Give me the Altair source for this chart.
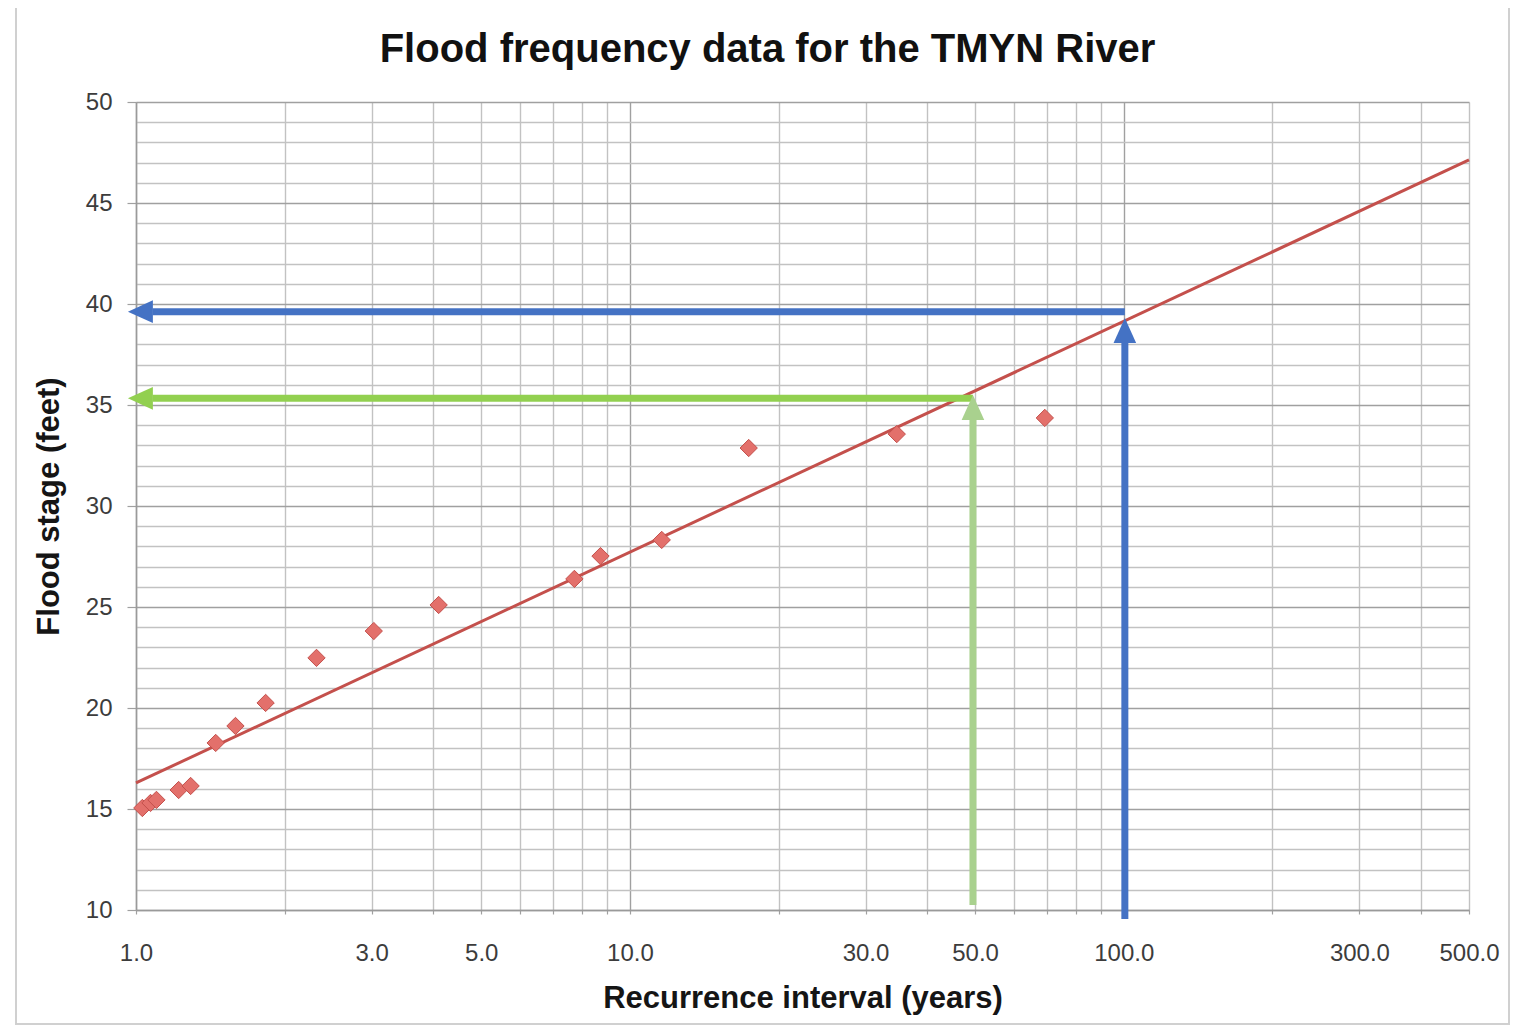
import altair as alt
import pandas as pd

FONT = "Liberation Sans"

chart_title = "Flood frequency data for the TMYN River"
x_title = "Recurrence interval (years)"
y_title = "Flood stage (feet)"

# observed floods: recurrence interval (years) and stage (feet)
interval = [1.03, 1.07, 1.10, 1.22, 1.29, 1.45, 1.59, 1.83, 2.32, 3.03, 4.10,
            7.72, 8.72, 11.6, 17.4, 34.7, 69.2]
stage = [15.05, 15.3, 15.45, 15.94, 16.14, 18.27, 19.11, 20.25, 22.48, 23.81,
         25.1, 26.39, 27.52, 28.32, 32.87, 33.56, 34.36]

# fitted trend line end points
trend_interval = [1.0, 500.0]
trend_stage = [16.29, 47.13]

# axis gridlines and labels
x_grid = [1, 2, 3, 4, 5, 6, 7, 8, 9, 10, 20, 30, 40, 50, 60, 70, 80, 90,
          100, 200, 300, 400, 500]
x_labeled = [1, 3, 5, 10, 30, 50, 100, 300, 500]
x_major = [1, 10, 100]
y_grid = list(range(10, 51))

# read-off arrows (100-year in blue, 50-year in green)
arrow_color = ["#4472c4", "#92d050", "#4472c4", "#a9d18e"]
arrow_from_x = [100.5, 49.5, 100.5, 49.5]
arrow_to_x = [1.08, 1.08, 100.5, 49.5]
arrow_from_y = [39.62, 35.33, 9.55, 10.25]
arrow_to_y = [39.62, 35.33, 38.2, 34.4]
head_x = [0.963, 0.963, 100.5, 49.5]
head_y = [39.62, 35.33, 39.31, 35.5]
head_dir = ["left", "left", "up", "up"]

LEFT_HEAD = "M0,0L2.1,-0.95L2.1,0.95Z"
UP_HEAD = "M0,0L0.95,2.1L-0.95,2.1Z"

pts = pd.DataFrame({"interval": interval, "stage": stage})
trend = pd.DataFrame({"interval": trend_interval, "stage": trend_stage})
shafts = pd.DataFrame({"interval": arrow_from_x, "x2": arrow_to_x, "stage": arrow_from_y,
                       "y2": arrow_to_y, "c": arrow_color})
heads = pd.DataFrame({"interval": head_x, "stage": head_y, "d": head_dir, "c": arrow_color})

xs = alt.Scale(type="log", domain=[1, 500], nice=False)
ys = alt.Scale(domain=[10, 50], nice=False, zero=False)

GRID_MINOR = "#c2c2c2"
GRID_MAJOR = "#a0a0a0"
x_major_test = " || ".join(f"datum.value == {v}" for v in x_major)

x_axis = alt.Axis(
    values=x_grid,
    labelExpr=f"indexof({x_labeled}, datum.value) >= 0 ? format(datum.value, '.1f') : ''",
    title=x_title, titleFontSize=31, titleFontWeight="bold", titleColor="#151515",
    titleY=97, titleBaseline="alphabetic",
    labelFontSize=24, labelColor="#3c3c3c", labelBaseline="alphabetic", labelPadding=46,
    labelOverlap=False, labelFlush=False, labelBound=False,
    tickSize=4, tickColor="#a0a0a0", tickWidth=1.2,
    gridColor={"condition": {"test": x_major_test, "value": GRID_MAJOR}, "value": GRID_MINOR},
    gridWidth=1.4, domainColor="#9a9a9a", domainWidth=1.5,
)

y_axis = alt.Axis(
    values=y_grid,
    labelExpr="datum.value % 5 === 0 ? datum.value : ''",
    title=y_title, titleFontSize=31, titleFontWeight="bold", titleColor="#151515",
    titleX=-87, titleY=404, titleBaseline="middle", titleAngle=270,
    labelFontSize=24, labelColor="#3c3c3c", labelPadding=15, labelBaseline="middle",
    labelOverlap=False, labelFlush=False, labelBound=False,
    tickSize=9, tickWidth=1.2,
    tickColor={"condition": {"test": "datum.value % 5 === 0", "value": "#a0a0a0"},
               "value": "rgba(0,0,0,0)"},
    gridColor={"condition": {"test": "datum.value % 5 === 0", "value": GRID_MAJOR},
               "value": GRID_MINOR},
    gridWidth=1.4, domainColor="#9a9a9a", domainWidth=1.5,
)

X = alt.X("interval:Q", scale=xs, axis=x_axis)
Y = alt.Y("stage:Q", scale=ys, axis=y_axis)

frame = alt.Chart(pts).mark_rect(filled=False, stroke="#cfcfcf", strokeWidth=1.5).encode(
    x=alt.value(-120), x2=alt.value(1373), y=alt.value(-96), y2=alt.value(922)
)

trend_line = alt.Chart(trend).mark_line(color="#c4504c", strokeWidth=3).encode(x=X, y=Y)

points = alt.Chart(pts).mark_point(
    shape="diamond", filled=True, color="#e3706b", stroke="#c4504c",
    strokeWidth=1, opacity=1, size=300
).encode(x=X, y=Y)

arrow_shafts = alt.Chart(shafts).mark_rule(strokeWidth=7, strokeCap="butt").encode(
    x=X, x2="x2:Q", y=Y, y2="y2:Q",
    color=alt.Color("c:N", scale=None),
)

arrow_heads = alt.Chart(heads).mark_point(filled=True, opacity=1, size=566, strokeWidth=0).encode(
    x=X, y=Y,
    color=alt.Color("c:N", scale=None),
    shape=alt.Shape("d:N", scale=alt.Scale(domain=["left", "up"], range=[LEFT_HEAD, UP_HEAD]),
                    legend=None),
)

chart = alt.layer(frame, trend_line, points, arrow_shafts, arrow_heads).properties(
    width=1333, height=808,
    autosize=alt.AutoSizeParams(type="none"),
    padding={"left": 128, "top": 94, "right": 42, "bottom": 115},
    title=alt.TitleParams(
        text=chart_title, fontSize=40, fontWeight="bold", font=FONT, color="#111111",
        anchor="middle", frame="group", dx=-35, baseline="alphabetic", offset=0, dy=97,
    ),
).configure(font=FONT).configure_view(stroke=None).configure_axis(
    labelFont=FONT, titleFont=FONT
)

chart.save("out.html", embed_options={"renderer": "svg", "actions": False})
